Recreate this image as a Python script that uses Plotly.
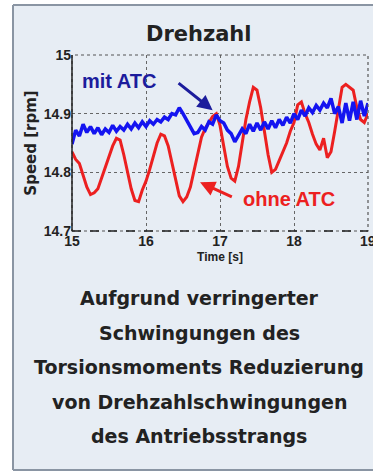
import plotly.graph_objects as go

# Time axis (s) and measured speed traces (rpm)
time_s = [round(15.0 + 0.05 * i, 2) for i in range(81)]

speed_ohne_atc = [
    14.835, 14.822, 14.815, 14.795, 14.775, 14.762, 14.765, 14.772, 14.790, 14.810,
    14.828, 14.845, 14.858, 14.855, 14.830, 14.800, 14.772, 14.752, 14.750, 14.770,
    14.785, 14.805, 14.830, 14.850, 14.865, 14.862, 14.845, 14.815, 14.785, 14.760,
    14.750, 14.758, 14.775, 14.805, 14.835, 14.860, 14.875, 14.885, 14.895, 14.900,
    14.880, 14.845, 14.810, 14.790, 14.785, 14.810, 14.850, 14.890, 14.920, 14.945,
    14.940, 14.910, 14.870, 14.830, 14.800, 14.805, 14.820, 14.835, 14.850, 14.870,
    14.885, 14.915, 14.920, 14.900, 14.885, 14.865, 14.848, 14.838, 14.858, 14.825,
    14.835, 14.870, 14.910, 14.945, 14.950, 14.945, 14.940, 14.910, 14.890, 14.885,
    14.900,
]

speed_mit_atc = [
    14.848, 14.872, 14.862, 14.882, 14.868, 14.878, 14.866, 14.876, 14.864, 14.874,
    14.868, 14.880, 14.870, 14.878, 14.872, 14.882, 14.874, 14.884, 14.876, 14.886,
    14.878, 14.888, 14.882, 14.890, 14.886, 14.894, 14.890, 14.900, 14.898, 14.910,
    14.900, 14.888, 14.876, 14.866, 14.868, 14.878, 14.872, 14.886, 14.882, 14.898,
    14.888, 14.884, 14.872, 14.866, 14.852, 14.862, 14.874, 14.866, 14.882, 14.870,
    14.884, 14.872, 14.886, 14.874, 14.888, 14.876, 14.890, 14.880, 14.894, 14.884,
    14.900, 14.890, 14.906, 14.896, 14.910, 14.902, 14.914, 14.906, 14.918, 14.910,
    14.926, 14.900, 14.912, 14.884, 14.918, 14.888, 14.920, 14.890, 14.922, 14.896,
    14.918,
]

x_ticks = [15, 16, 17, 18, 19]
y_ticks = [14.7, 14.8, 14.9, 15.0]
y_tick_text = ["14.7", "14.8", "14.9", "15"]

caption_lines = [
    "Aufgrund verringerter",
    "Schwingungen des",
    "Torsionsmoments Reduzierung",
    "von Drehzahlschwingungen",
    "des Antriebsstrangs",
]

W, H = 373, 474
L, R, T, B = 72, 5, 55, 243
plot_h = H - T - B
plot_w = W - L - R

RED = "#ec2020"
BLUE = "#1414f0"
NAVY = "#1c1c9c"
PANEL = "#e7edf4"
FRAME = "#8a95a3"
TEXT = "#222222"
BOLD = "DejaVu Sans"
NARROW = "Liberation Sans Narrow, Arial Narrow, Liberation Sans"


def px_to_paper_x(px):
    return (px - L) / plot_w


def px_to_paper_y(py):
    return (H - B - py) / plot_h


fig = go.Figure()
fig.add_trace(go.Scatter(x=time_s, y=speed_ohne_atc, mode="lines",
                         line=dict(color=RED, width=3), name="ohne ATC"))
fig.add_trace(go.Scatter(x=time_s, y=speed_mit_atc, mode="lines",
                         line=dict(color=BLUE, width=3.5), name="mit ATC"))

px0, px1 = px_to_paper_x(13), px_to_paper_x(W + 60)
py0, py1 = px_to_paper_y(470), px_to_paper_y(5)
frame = dict(color=FRAME, width=2)
shapes = [
    # panel fill, open to the right
    dict(type="rect", xref="paper", yref="paper", layer="below",
         x0=px0, x1=px1, y0=py0, y1=py1, fillcolor=PANEL, line=dict(width=0)),
    dict(type="line", xref="paper", yref="paper", x0=px0, x1=px0, y0=py0, y1=py1,
         line=frame),
    dict(type="line", xref="paper", yref="paper", x0=px0, x1=px1, y0=py1, y1=py1,
         line=frame),
    dict(type="line", xref="paper", yref="paper", x0=px0, x1=px1, y0=py0, y1=py0,
         line=frame),
    # dotted box around the axes
    dict(type="rect", xref="x domain", yref="y domain", x0=0, x1=1, y0=0, y1=1,
         line=dict(color="#555555", width=1.2, dash="dot"), layer="above"),
    # solid left axis line and dashed bottom line
    dict(type="line", xref="x domain", yref="y domain", x0=0, x1=0, y0=0, y1=1,
         line=dict(color="#222222", width=1.5), layer="above"),
    dict(type="line", xref="x domain", yref="y domain", x0=0, x1=1, y0=0, y1=0,
         line=dict(color="#222222", width=1.3, dash="dash"), layer="above"),
]

annotations = [
    dict(text="<b>Drehzahl</b>", xref="paper", yref="paper",
         x=px_to_paper_x(199), y=px_to_paper_y(34), xanchor="center",
         yanchor="middle", showarrow=False,
         font=dict(family=BOLD, size=21, color=TEXT)),
    # last x tick label, running off the right edge
    dict(text="<b>19</b>", x=19, xref="x", yref="paper", y=px_to_paper_y(241),
         xanchor="center", yanchor="middle", showarrow=False,
         font=dict(family=NARROW, size=14, color=TEXT)),
    dict(text="<b>mit ATC</b>", x=15.63, y=14.956, showarrow=False,
         xanchor="center", yanchor="middle",
         font=dict(family="Liberation Sans", size=20, color=NAVY)),
    dict(text="<b>ohne ATC</b>", x=17.93, y=14.754, showarrow=False,
         xanchor="center", yanchor="middle",
         font=dict(family="Liberation Sans", size=20, color=RED)),
    dict(text="", x=16.90, y=14.906, ax=16.42, ay=14.954, axref="x", ayref="y",
         showarrow=True, arrowhead=2, arrowsize=1, arrowwidth=3, arrowcolor=NAVY),
    dict(text="", x=16.73, y=14.783, ax=17.18, ay=14.757, axref="x", ayref="y",
         showarrow=True, arrowhead=2, arrowsize=1, arrowwidth=3, arrowcolor=RED),
]

caption_y = [298, 333, 367, 402, 436]
for line, py in zip(caption_lines, caption_y):
    annotations.append(dict(text=f"<b>{line}</b>", xref="paper", yref="paper",
                            x=px_to_paper_x(199), y=px_to_paper_y(py),
                            xanchor="center", yanchor="middle",
                            showarrow=False,
                            font=dict(family=BOLD, size=19, color=TEXT)))

fig.update_layout(
    width=W, height=H,
    margin=dict(l=L, r=R, t=T, b=B),
    paper_bgcolor="white",
    plot_bgcolor="white",
    showlegend=False,
    shapes=shapes,
    annotations=annotations,
)

fig.update_xaxes(
    range=[15, 19], tickvals=x_ticks[:-1],
    ticktext=[f"<b>{v}</b>" for v in x_ticks[:-1]],
    showgrid=True, gridcolor="#666666", griddash="dot", gridwidth=1.2,
    zeroline=False, showline=False, ticks="",
    tickfont=dict(family=NARROW, size=14, color=TEXT),
    title=dict(text="<b>Time [s]</b>", standoff=4,
               font=dict(family=NARROW, size=12, color=TEXT)),
)
fig.update_yaxes(
    range=[14.7, 15.0], tickvals=y_ticks,
    ticktext=[f"<b>{t}</b>" for t in y_tick_text],
    showgrid=True, gridcolor="#666666", griddash="dot", gridwidth=1.2,
    zeroline=False, showline=False, ticks="",
    tickfont=dict(family=NARROW, size=14, color=TEXT),
    title=dict(text="<b>Speed [rpm]</b>", standoff=3,
               font=dict(family=BOLD, size=15, color=TEXT)),
)

fig.write_html("out.html")
